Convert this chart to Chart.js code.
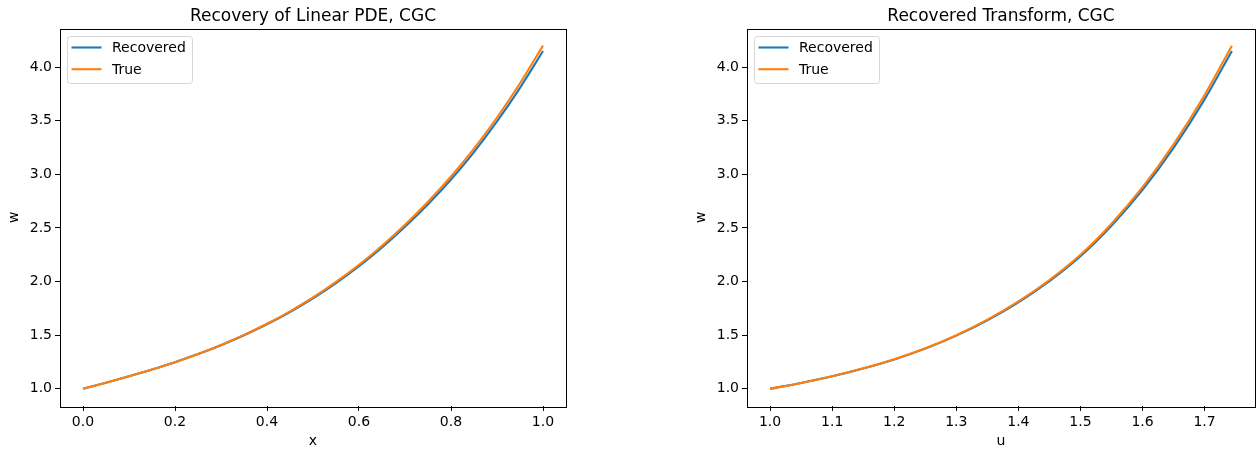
<!DOCTYPE html>
<html>
<head>
<meta charset="utf-8">
<script src="https://cdn.jsdelivr.net/npm/chart.js@4"></script>
<style>
  body { margin: 0; background: #fff; }
  #wrap { position: relative; width: 1257px; height: 450px; }
  canvas { position: absolute; top: 0; }
</style>
</head>
<body>
<div id="wrap">
  <canvas id="pdeChart" width="628" height="450" style="left:0"></canvas>
  <canvas id="transformChart" width="629" height="450" style="left:628px"></canvas>
</div>
<script>
// Left panel: w against x
const xValues = [0.00, 0.05, 0.10, 0.15, 0.20, 0.25, 0.30, 0.35, 0.40, 0.45, 0.50,
                 0.55, 0.60, 0.65, 0.70, 0.75, 0.80, 0.85, 0.90, 0.95, 1.00];
const pdeRecovered = [1.000, 1.057, 1.117, 1.180, 1.248, 1.324, 1.407, 1.500, 1.602, 1.716, 1.843,
                      1.986, 2.143, 2.318, 2.511, 2.721, 2.952, 3.208, 3.493, 3.807, 4.150];
const pdeTrue = [1.000, 1.057, 1.117, 1.180, 1.248, 1.324, 1.409, 1.503, 1.607, 1.723, 1.852,
                 1.997, 2.157, 2.335, 2.531, 2.745, 2.980, 3.240, 3.530, 3.850, 4.200];

// Right panel: w against u
const uValues = [1.00, 1.05, 1.10, 1.15, 1.20, 1.25, 1.30, 1.35, 1.40, 1.45, 1.50,
                 1.55, 1.60, 1.65, 1.70, 1.744];
const transformRecovered = [1.000, 1.055, 1.117, 1.190, 1.274, 1.375, 1.496, 1.639, 1.807, 2.004, 2.236,
                            2.521, 2.855, 3.247, 3.699, 4.150];
const transformTrue = [1.000, 1.055, 1.118, 1.191, 1.276, 1.378, 1.500, 1.645, 1.815, 2.015, 2.250,
                       2.540, 2.880, 3.280, 3.740, 4.200];

// Tick labels
const xTicks = [0.0, 0.2, 0.4, 0.6, 0.8, 1.0];
const uTicks = [1.0, 1.1, 1.2, 1.3, 1.4, 1.5, 1.6, 1.7];
const wTicks = [1.0, 1.5, 2.0, 2.5, 3.0, 3.5, 4.0];

Chart.defaults.font.family = "'DejaVu Sans', sans-serif";
Chart.defaults.color = '#000';

// matplotlib-like frame, title and legend
const mplFrame = {
    id: 'mplFrame',
    afterDraw(chart, args, opts) {
        const ctx = chart.ctx;
        const area = chart.chartArea;
        ctx.save();

        ctx.strokeStyle = '#000';
        ctx.lineWidth = 1;
        ctx.strokeRect(Math.round(area.left) + 0.5, Math.round(area.top) + 0.5,
                       Math.round(area.right - area.left), Math.round(area.bottom - area.top));

        ctx.fillStyle = '#000';
        ctx.font = "17px 'DejaVu Sans'";
        ctx.textAlign = 'center';
        ctx.textBaseline = 'alphabetic';
        ctx.fillText(opts.title, (area.left + area.right) / 2, 21);

        // legend box
        const bx = area.left + 7, by = area.top + 7.5, bw = 125, bh = 47;
        ctx.beginPath();
        ctx.roundRect(bx + 0.5, by + 0.5, bw, bh, 3);
        ctx.fillStyle = 'rgba(255,255,255,0.8)';
        ctx.fill();
        ctx.strokeStyle = '#d6d6d6';
        ctx.stroke();

        ctx.font = "14px 'DejaVu Sans'";
        ctx.textAlign = 'left';
        ctx.textBaseline = 'middle';
        chart.data.datasets.forEach((ds, i) => {
            const ly = by + 11.5 + i * 21.7;
            ctx.beginPath();
            ctx.moveTo(bx + 4.5, ly);
            ctx.lineTo(bx + 34.5, ly);
            ctx.strokeStyle = ds.borderColor;
            ctx.lineWidth = 2.1;
            ctx.stroke();
            ctx.fillStyle = '#000';
            ctx.fillText(ds.label, bx + 45, ly + 1);
        });
        ctx.restore();
    }
};

function axisConfig(ticks, min, max, label, isX) {
    return {
        type: 'linear',
        min: min,
        max: max,
        afterBuildTicks: scale => { scale.ticks = ticks.map(v => ({ value: v })); },
        afterFit: scale => {
            if (isX) scale.height = 44;
            else scale.width = 60;
        },
        grid: { drawOnChartArea: false, drawTicks: true, tickLength: 5, color: '#000', lineWidth: 1 },
        border: { display: false },
        ticks: {
            color: '#000',
            font: { size: 14 },
            padding: 3,
            autoSkip: false,
            maxRotation: 0,
            callback: v => Number(v).toFixed(1)
        },
        title: {
            display: true,
            text: label,
            color: '#000',
            font: { size: 14 },
            padding: isX ? { top: 0, bottom: 0 } : { top: 6, bottom: 0 }
        }
    };
}

function makePanel(canvasId, xs, recovered, truth, ticks, xMin, xMax, title, xLabel, padLeft, padRight) {
    const ctx = document.getElementById(canvasId).getContext('2d');
    return new Chart(ctx, {
        type: 'scatter',
        data: {
            datasets: [
                {
                    label: 'Recovered',
                    data: xs.map((x, i) => ({ x: x, y: recovered[i] })),
                    borderColor: '#1f77b4',
                    backgroundColor: '#1f77b4',
                    borderWidth: 2.1,
                    showLine: true,
                    pointRadius: 0,
                    cubicInterpolationMode: 'monotone',
                    order: 1
                },
                {
                    label: 'True',
                    data: xs.map((x, i) => ({ x: x, y: truth[i] })),
                    borderColor: '#ff7f0e',
                    backgroundColor: '#ff7f0e',
                    borderWidth: 2.1,
                    showLine: true,
                    pointRadius: 0,
                    cubicInterpolationMode: 'monotone',
                    order: 0
                }
            ]
        },
        options: {
            responsive: false,
            animation: false,
            layout: { padding: { left: padLeft, right: padRight, top: 28.5, bottom: 0 } },
            plugins: {
                legend: { display: false },
                tooltip: { enabled: false },
                mplFrame: { title: title }
            },
            scales: {
                x: axisConfig(ticks, xMin, xMax, xLabel, true),
                y: axisConfig(wTicks, 0.84, 4.36, 'w', false)
            }
        },
        plugins: [mplFrame]
    });
}

makePanel('pdeChart', xValues, pdeRecovered, pdeTrue, xTicks, -0.05, 1.05,
          'Recovery of Linear PDE, CGC', 'x', 0, 62);
makePanel('transformChart', uValues, transformRecovered, transformTrue, uTicks, 0.9628, 1.7812,
          'Recovered Transform, CGC', 'u', 59, 2);
</script>
</body>
</html>
